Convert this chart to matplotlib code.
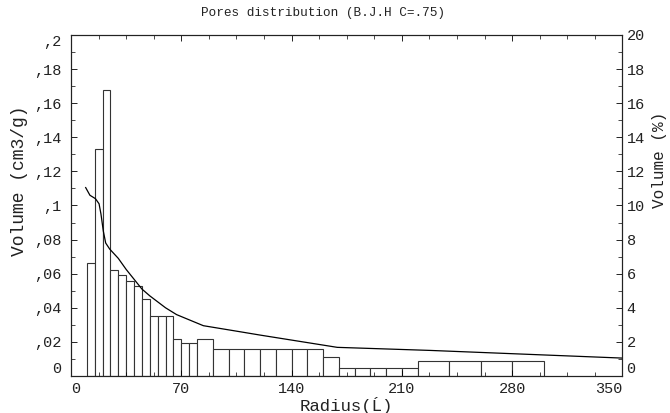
import numpy as np
import matplotlib
matplotlib.use("Agg")
import matplotlib.pyplot as plt
from matplotlib.ticker import MultipleLocator

plt.rcParams['font.family'] = ['Liberation Mono', 'DejaVu Sans Mono']

# histogram classes (radius, left edge and width) and pore volume (cm3/g)
bin_left = [10, 15, 20, 25, 30, 35, 40, 45, 50, 55, 60, 65, 70, 75,
            80, 90, 100, 110, 120, 130, 140, 150, 160, 170, 180, 190, 200, 210,
            220, 240, 260, 280]
bin_width = [5] * 14 + [10] * 14 + [20] * 4
volume = [0.066, 0.133, 0.168, 0.062, 0.059, 0.056, 0.053, 0.045, 0.035, 0.035,
          0.035, 0.0215, 0.0195, 0.0195,
          0.0215, 0.0157, 0.0157, 0.0157, 0.0157, 0.0157, 0.0157, 0.0157,
          0.0113, 0.0045, 0.0045, 0.0045, 0.0045, 0.0045,
          0.0086, 0.0086, 0.0086, 0.0086]

# curve in % (right axis)
curve_r = [9.3, 12, 15.5, 17.8, 19, 20.5, 22, 24.5, 30, 35, 45, 50, 60, 67, 84,
           107, 120, 169, 228, 350]
curve_pct = [11.05, 10.6, 10.4, 10.1, 9.5, 8.5, 7.8, 7.45, 6.9, 6.25, 5.1, 4.7,
             4.0, 3.6, 2.95, 2.6, 2.4, 1.68, 1.5, 1.05]

x_ticks = [0, 70, 140, 210, 280, 350]
y_ticks = [0, 0.02, 0.04, 0.06, 0.08, 0.1, 0.12, 0.14, 0.16, 0.18, 0.2]
y_labels = ['0', ',02', ',04', ',06', ',08', ',1', ',12', ',14', ',16', ',18', ',2']
pct_ticks = list(range(0, 21, 2))

fig = plt.figure(figsize=(6.7, 4.13), dpi=100)
ax = fig.add_axes([0.106, 0.0896, 0.823, 0.8257])
ax2 = ax.twinx()

ax.bar(bin_left, volume, width=bin_width, align='edge', facecolor='white',
       edgecolor='#333333', linewidth=0.8)
ax2.plot(curve_r, curve_pct, color='black', linewidth=0.9)

ax.set_xlim(0, 350)
ax.set_ylim(0, 0.2)
ax2.set_ylim(0, 20)

ax.set_xticks(x_ticks)
ax.set_xticklabels([str(v) for v in x_ticks])
ax.xaxis.set_minor_locator(MultipleLocator(17.5))
ax.set_yticks(y_ticks)
ax.set_yticklabels(y_labels)
ax.yaxis.set_minor_locator(MultipleLocator(0.01))
ax2.set_yticks(pct_ticks)
ax2.set_yticklabels([str(v) for v in pct_ticks])
ax2.yaxis.set_minor_locator(MultipleLocator(1))

ax.tick_params(axis='both', which='both', direction='in', top=True, labelsize=11,
               labelcolor='#222222')
ax.tick_params(axis='both', which='major', length=4, width=0.6)
ax.tick_params(axis='both', which='minor', length=3, width=0.5)
ax.tick_params(axis='x', pad=4)
ax.tick_params(axis='y', pad=7)
ax2.tick_params(axis='y', which='both', direction='in', labelsize=11, pad=3,
                labelcolor='#222222')
ax2.tick_params(axis='y', which='major', length=4, width=0.6)
ax2.tick_params(axis='y', which='minor', length=3, width=0.5)

# end labels pushed inside like the original
xl = ax.get_xticklabels()
xl[0].set_ha('left')
xl[-1].set_ha('right')
yl = ax.get_yticklabels()
yl[0].set_va('bottom')
yl[-1].set_va('top')
pl = ax2.get_yticklabels()
pl[0].set_va('bottom')

for a in (ax, ax2):
    for s in a.spines.values():
        s.set_linewidth(0.8)
        s.set_color('#222222')

fig.text(0.482, 0.968, 'Pores distribution (B.J.H C=.75)', fontsize=9.2,
         ha='center', va='center', color='#222222')
ax.set_xlabel('Radius(Ĺ)', fontsize=12.5, labelpad=1, color='#222222')
ax.set_ylabel('Volume (cm3/g)', fontsize=13, color='#222222')
ax.yaxis.set_label_coords(-0.078, 0.572)
ax2.set_ylabel('Volume (%)', fontsize=11.5, color='#222222', rotation=90)
ax2.yaxis.set_label_coords(1.054, 0.633)

fig.savefig('out.png', dpi=100)
